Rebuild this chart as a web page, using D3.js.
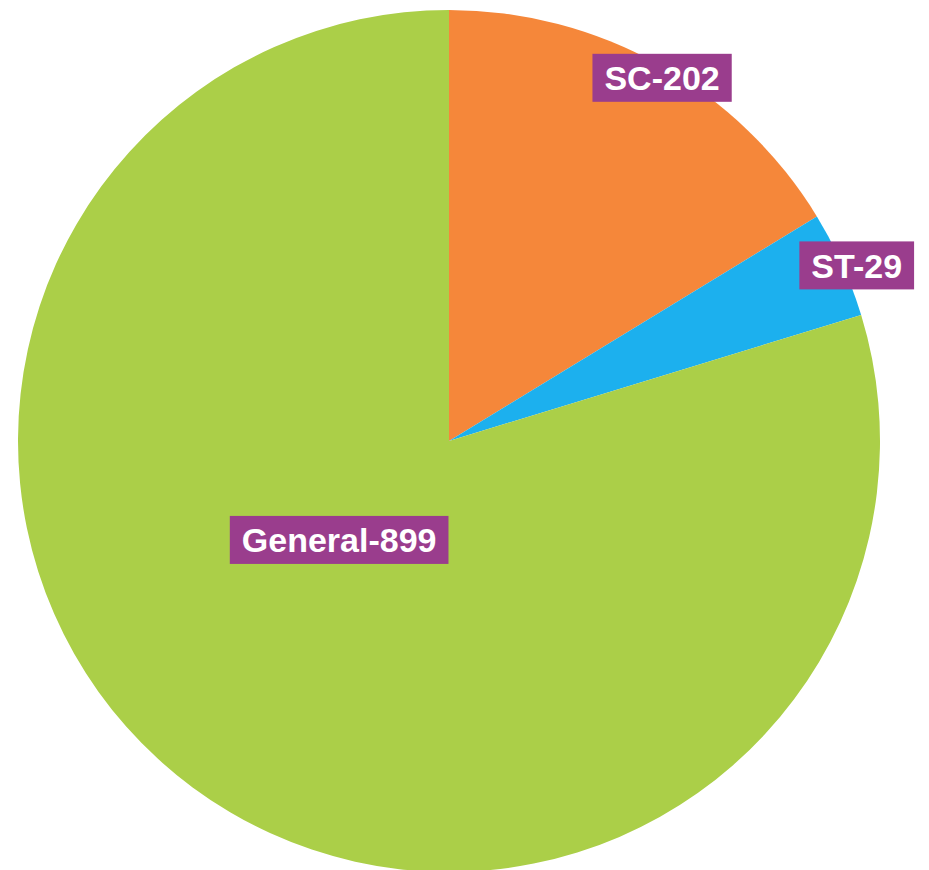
<!DOCTYPE html>
<html>
<head>
<meta charset="utf-8">
<script src="https://cdn.jsdelivr.net/npm/d3@7"></script>
<style>
  body { margin: 0; background: #ffffff; }
  svg { display: block; }
</style>
</head>
<body>
<div id="chart"></div>
<script>
// Dados
var categorias = ["SC", "ST", "General"];
var contagens = [202, 29, 899];
// fatia de cada categoria (graus do circulo)
var fatias = [58.6, 14.4, 287.0];
var cores = ["#f5873a", "#1cb0ee", "#abcf48"];

// posicao dos rotulos: [angulo em graus, fracao do raio]
var rotuloPos = [[30.4, 0.977], [66.7, 1.03], [228, 0.343]];

var svgWidth = 929, svgHeight = 870;
var cx = 449, cy = 441, raio = 431;

var svg = d3.select("#chart").append("svg")
    .attr("width", svgWidth)
    .attr("height", svgHeight);

var g = svg.append("g")
    .attr("transform", "translate(" + cx + "," + cy + ")");

var dados = categorias.map(function (c, i) {
    return { nome: c, valor: contagens[i], fatia: fatias[i], cor: cores[i], pos: rotuloPos[i] };
});

var pie = d3.pie()
    .value(d => d.fatia)
    .sort(null);

var arc = d3.arc()
    .innerRadius(0)
    .outerRadius(raio);

g.selectAll("path.fatia")
    .data(pie(dados))
    .enter()
    .append("path")
    .attr("class", "fatia")
    .attr("fill", d => d.data.cor)
    .attr("d", arc);

// Rotulos
var rot = g.selectAll("g.rotulo")
    .data(dados)
    .enter()
    .append("g")
    .attr("class", "rotulo")
    .attr("transform", function (d) {
        var a = d.pos[0] * Math.PI / 180;
        var r = d.pos[1] * raio;
        return "translate(" + (r * Math.sin(a)) + "," + (-r * Math.cos(a)) + ")";
    });

rot.append("text")
    .attr("text-anchor", "middle")
    .attr("dy", "0.36em")
    .attr("fill", "#ffffff")
    .style("font-family", "'Liberation Sans', Arial, Helvetica, sans-serif")
    .style("font-weight", "bold")
    .style("font-size", "34px")
    .text(d => d.nome + "-" + d.valor);

rot.each(function () {
    var grupo = d3.select(this);
    var bb = grupo.select("text").node().getBBox();
    grupo.insert("rect", "text")
        .attr("x", bb.x - 12)
        .attr("y", -24)
        .attr("width", bb.width + 24)
        .attr("height", 48)
        .attr("fill", "#9a3d8d");
});
</script>
</body>
</html>
